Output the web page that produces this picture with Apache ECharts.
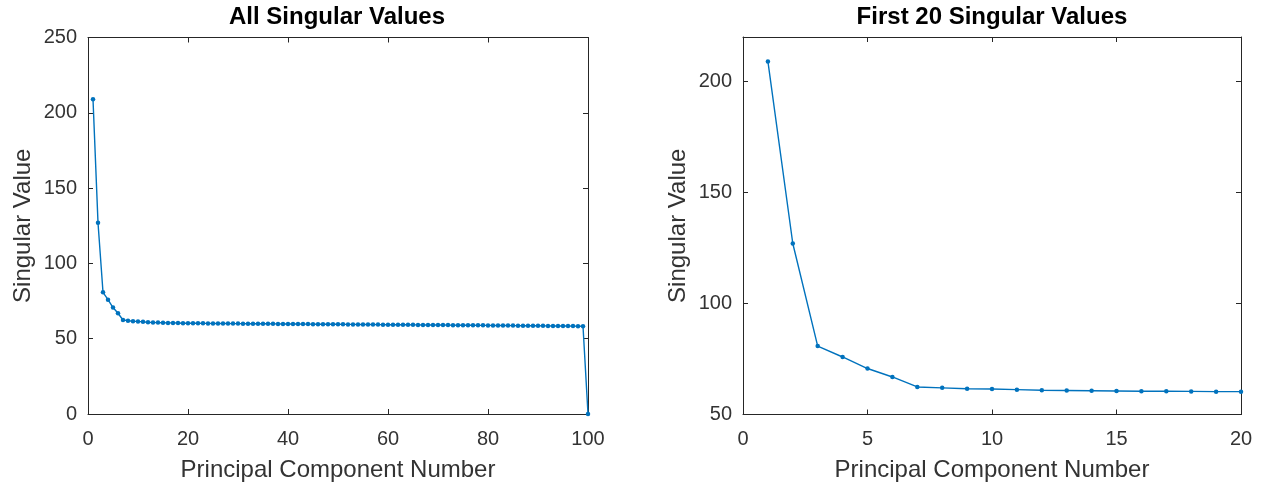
<!DOCTYPE html>
<html>
<head>
<meta charset="utf-8">
<script src="https://cdn.jsdelivr.net/npm/echarts@6/dist/echarts.min.js"></script>
<style>
html,body{margin:0;padding:0;background:#fff;}
#chart{width:1264px;height:488px;}
</style>
</head>
<body>
<div id="chart"></div>
<script>
// Singular values for principal components 1..100
var singularValues = [
  209.0, 127.0, 80.8, 75.9, 70.7, 66.9, 62.4, 62.0, 61.6, 61.5,
  61.2, 60.9, 60.8, 60.7, 60.6, 60.5, 60.5, 60.4, 60.3, 60.3,
  60.25, 60.22, 60.19, 60.17, 60.14, 60.12, 60.09, 60.07, 60.04, 60.02,
  59.99, 59.97, 59.95, 59.92, 59.90, 59.88, 59.85, 59.83, 59.81, 59.78,
  59.76, 59.74, 59.71, 59.69, 59.67, 59.64, 59.62, 59.60, 59.57, 59.55,
  59.53, 59.50, 59.48, 59.46, 59.43, 59.41, 59.39, 59.36, 59.34, 59.31,
  59.29, 59.27, 59.24, 59.22, 59.19, 59.17, 59.14, 59.12, 59.10, 59.07,
  59.05, 59.02, 59.00, 58.97, 58.95, 58.92, 58.90, 58.87, 58.85, 58.82,
  58.80, 58.77, 58.74, 58.72, 58.69, 58.66, 58.64, 58.61, 58.58, 58.56,
  58.53, 58.50, 58.47, 58.45, 58.42, 58.39, 58.36, 58.33, 58.30, 0.0
];
var firstCount = 20;
var titles = ['All Singular Values', 'First 20 Singular Values'];
var xAxisName = 'Principal Component Number';
var yAxisName = 'Singular Value';

var allPairs = singularValues.map(function (v, i) { return [i + 1, v]; });
var firstPairs = allPairs.slice(0, firstCount);

var AX = '#262626';
var TXT = '#333333';
var FONT = '"Liberation Sans", Arial, Helvetica, sans-serif';
var LINE = '#0072BD';

function xAx(gi, min, max, interval, withLabels, pos) {
  return {
    type: 'value', gridIndex: gi, position: pos, min: min, max: max, interval: interval,
    name: withLabels ? xAxisName : '', nameLocation: 'middle', nameGap: 44,
    nameTextStyle: {color: TXT, fontSize: 24, fontFamily: FONT},
    axisLine: {show: true, onZero: false, lineStyle: {color: AX, width: 1}},
    axisTick: {show: true, inside: true, length: 5, lineStyle: {color: AX}},
    axisLabel: {show: withLabels, color: TXT, fontSize: 20, fontFamily: FONT, margin: 15},
    splitLine: {show: false}
  };
}
function yAx(gi, min, max, interval, withLabels, pos, gap) {
  return {
    type: 'value', gridIndex: gi, position: pos, min: min, max: max, interval: interval,
    name: withLabels ? yAxisName : '', nameLocation: 'middle', nameGap: gap, nameRotate: 90,
    nameTextStyle: {color: TXT, fontSize: 24, fontFamily: FONT},
    axisLine: {show: true, onZero: false, lineStyle: {color: AX, width: 1}},
    axisTick: {show: true, inside: true, length: 5, lineStyle: {color: AX}},
    axisLabel: {show: withLabels, color: TXT, fontSize: 20, fontFamily: FONT, margin: 11, showMaxLabel: withLabels && max % interval === 0 ? true : false},
    splitLine: {show: false}
  };
}

var chart = echarts.init(document.getElementById('chart'), null, {renderer: 'canvas'});
chart.setOption({
  backgroundColor: '#fff',
  animation: false,
  title: [
    {text: titles[0], left: 337, top: 5, padding: 0, textAlign: 'center',
     textStyle: {color: '#000', fontSize: 24, fontWeight: 'bold', fontFamily: FONT}},
    {text: titles[1], left: 992, top: 5, padding: 0, textAlign: 'center',
     textStyle: {color: '#000', fontSize: 24, fontWeight: 'bold', fontFamily: FONT}}
  ],
  grid: [
    {left: 88, top: 37.5, width: 500, height: 376.5, containLabel: false},
    {left: 743, top: 37, width: 498, height: 377.5, containLabel: false}
  ],
  xAxis: [
    xAx(0, 0, 100, 20, true, 'bottom'),
    xAx(0, 0, 100, 20, false, 'top'),
    xAx(1, 0, 20, 5, true, 'bottom'),
    xAx(1, 0, 20, 5, false, 'top')
  ],
  yAxis: [
    yAx(0, 0, 250, 50, true, 'left', 53),
    yAx(0, 0, 250, 50, false, 'right', 0),
    yAx(1, 50, 220, 50, true, 'left', 53),
    yAx(1, 50, 220, 50, false, 'right', 0)
  ],
  series: [
    {type: 'line', xAxisIndex: 0, yAxisIndex: 0, data: allPairs,
     symbol: 'circle', symbolSize: 4.5, showSymbol: true,
     lineStyle: {color: LINE, width: 1.4}, itemStyle: {color: LINE}},
    {type: 'line', xAxisIndex: 2, yAxisIndex: 2, data: firstPairs,
     symbol: 'circle', symbolSize: 4.5, showSymbol: true,
     lineStyle: {color: LINE, width: 1.4}, itemStyle: {color: LINE}}
  ]
});
</script>
</body>
</html>
